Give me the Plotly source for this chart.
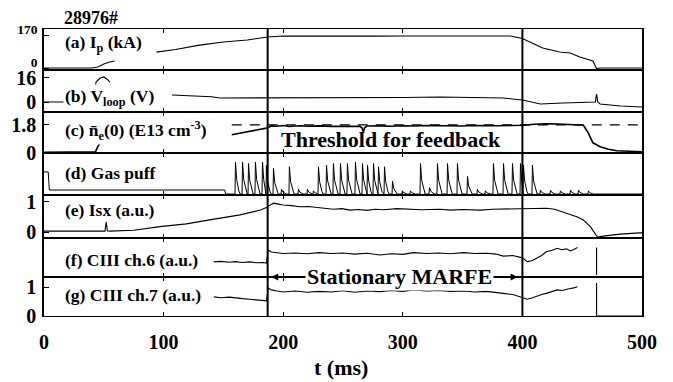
import plotly.graph_objects as go
from plotly.subplots import make_subplots

shot_label = "28976#"
x_tick_vals = [0, 100, 200, 300, 400, 500]
marfe_start, marfe_end = 187, 400

# (a) plasma current, kA
ip_t = [0, 40, 45, 50, 55, 59, None, 94, 110, 130, 150, 170, 187, 200, 225, 250, 275, 300, 325, 350, 375, 390, 400, 406, 417, 431, 440, 448, 459, 462, 466, 480, 500]
ip_v = [0, 0, 5, 21, 31, 36, None, 82, 95, 118, 134, 144, 160, 165, 164, 166, 164, 165, 166, 167, 166, 165, 152, 135, 103, 82, 77, 57, 36, -3, 0, 0, 0]

# (b) loop voltage, V
vl_t = [0, 40, 42, 43.5, 47, 50, 53, 55, None, 107, 130, 140, 147, 187, 230, 267, 300, 331, 360, 384, 400, 407, 415, 434, 448, 461, 462, 463, 465, 482, 500]
vl_v = [0, 0, 5, 13.3, 16, 16.7, 15, 13.3, None, 4.7, 4.0, 3.5, 2.7, 2.7, 3.0, 2.9, 3.0, 3.3, 3.0, 2.7, 1.3, 0, -1.3, -0.7, -0.3, 0, 5.3, 0, -1.3, -2.7, -3.3]

# (c) line-averaged density, E13 cm-3
ne_t = [0, 42, 43, 45, 47, None, 157, 165, 175, 187, 190, 195, 200, 205, 210, 215, 220, 230, 240, 250, 258, 264, 266, 267, 268, 270, 280, 290, 300, 310, 320, 330, 340, 350, 360, 370, 380, 390, 400, 410, 420, 430, 440, 448, 451, 455, 459, 465, 472, 479, 488, 496, 500]
ne_v = [0.02, 0.02, 0.05, 0.39, 0.64, None, 1.16, 1.29, 1.41, 1.61, 1.74, 1.72, 1.76, 1.70, 1.73, 1.75, 1.72, 1.74, 1.71, 1.73, 1.70, 1.72, 1.60, 1.29, 1.60, 1.73, 1.74, 1.72, 1.75, 1.73, 1.76, 1.74, 1.75, 1.73, 1.76, 1.74, 1.75, 1.76, 1.78, 1.85, 1.88, 1.86, 1.84, 1.82, 1.78, 1.29, 0.64, 0.39, 0.22, 0.13, 0.08, 0.06, 0.06]
threshold_t = [157, 500]
threshold_v = [1.8, 1.8]

# (d) gas puff: pre-fill then feedback pulses (time, relative height)
puff_base_t = [0, 3.5, 4.5, 151, 152]
puff_base_v = [0.69, 0.69, 0.125, 0.125, 0]
pulse_t = [159.7, 165.6, 170.6, 176.4, 182.3, 185.6, 191.5, 198.2, 204.8, 212.4, 219.9, 224.9, 229.1, 235.8, 241.6, 247.5, 253.3, 260.0, 265.9, 270.1, 275.1, 279.3, 284.3, 291.0, 299.3, 306.0, 314.4, 321.9, 328.6, 337.0, 345.3, 353.7, 362.0, 368.7, 375.4, 383.8, 391.3, 398.0, 400.5, 408.0, 414.7, 423.1, 431.4, 439.8, 446.5, 454.8]
pulse_h = [1.0, 1.0, 0.95, 1.0, 1.0, 0.9, 0.8, 0.15, 0.85, 0.15, 0.15, 0.1, 0.85, 0.9, 0.95, 0.95, 0.95, 1.0, 0.95, 0.9, 0.95, 0.85, 0.85, 0.4, 0.1, 0.1, 0.95, 0.2, 0.95, 0.95, 0.95, 0.55, 0.15, 0.1, 0.95, 0.95, 0.95, 0.95, 0.9, 0.9, 0.12, 0.12, 0.1, 0.12, 0.12, 0.1]

# (e) soft X-ray, a.u.
isx_t = [0, 30, 50, 51, 52, 53, 55, 75, 97, 119, 141, 164, 181, 186, 190, 192, 196, 200, 207, 214, 221, 228, 235, 242, 249, 256, 263, 270, 277, 284, 295, 305, 315, 331, 340, 350, 365, 375, 385, 395, 405, 413, 420, 427, 434, 440, 446, 451, 457, 461, 463, 469, 482, 498, 500]
isx_v = [0.03, 0.03, 0.03, 0.03, 0.33, 0.04, 0.03, 0.06, 0.18, 0.27, 0.42, 0.57, 0.73, 0.82, 0.92, 0.96, 0.93, 0.90, 0.88, 0.84, 0.85, 0.82, 0.80, 0.76, 0.78, 0.73, 0.75, 0.72, 0.76, 0.74, 0.78, 0.76, 0.74, 0.76, 0.73, 0.75, 0.73, 0.76, 0.77, 0.77, 0.78, 0.80, 0.79, 0.76, 0.67, 0.58, 0.50, 0.40, 0.17, -0.07, -0.17, -0.13, -0.07, -0.03, -0.03]

# (f), (g) CIII channels, a.u.
ciii_t = [142, 148, 155, 160, 166, 172, 178, 183, 186, 187.5, 190, 195, 200, 210, 220, 230, 240, 250, 260, 270, 281, 290, 300, 309, 320, 330, 340, 351, 360, 370, 378, 384, 392, 400, 404, 408, 412, 416, 420, 425, 429, 433, 437, 440, 443, 446]
ch6_v = [0.52, 0.54, 0.51, 0.53, 0.50, 0.52, 0.49, 0.50, 0.48, 0.93, 0.86, 0.84, 0.81, 0.83, 0.80, 0.84, 0.81, 0.83, 0.79, 0.82, 0.76, 0.80, 0.78, 0.84, 0.81, 0.83, 0.80, 0.84, 0.81, 0.82, 0.79, 0.72, 0.74, 0.66, 0.53, 0.56, 0.64, 0.74, 0.87, 0.92, 0.99, 0.94, 0.97, 0.90, 0.95, 1.02]
ch7_v = [0.66, 0.63, 0.65, 0.62, 0.60, 0.58, 0.56, 0.54, 0.52, 0.97, 0.90, 0.86, 0.83, 0.86, 0.82, 0.85, 0.83, 0.87, 0.82, 0.86, 0.84, 0.88, 0.85, 0.90, 0.86, 0.88, 0.85, 0.86, 0.83, 0.85, 0.80, 0.78, 0.74, 0.64, 0.58, 0.62, 0.69, 0.74, 0.78, 0.84, 0.90, 0.88, 0.93, 0.95, 0.97, 1.01]
ch6_disr_t = [462, 462]
ch6_disr_v = [0.07, 1.02]
ch7_disr_t = [462, 462, 500]
ch7_disr_v = [1.14, 0, 0]

panel_labels = ["(a) I<sub>p</sub> (kA)", "(b) V<sub>loop</sub> (V)",
                "(c) n\u0304<sub>e</sub>(0) (E13 cm<sup>-3</sup>)", "(d) Gas puff",
                "(e) Isx (a.u.)", "(f) CIII ch.6 (a.u.)", "(g) CIII ch.7 (a.u.)"]
y_ranges = [[-10.3, 200.9], [-6.67, 21.33], [-0.02, 2.64], [-0.03, 1.28],
            [-0.2, 1.233], [0, 1.345], [0, 1.345]]
y_ticks = [[0, 170], [0, 16], [0, 1.8], [], [0, 1], [], [0, 1]]
y_ticktext = [["0", "170"], ["0", "16"], ["0", "1.8"], [], ["0", "1"], [], ["0", "1"]]

# build gas-puff waveform from pulse list
gp_t = list(puff_base_t)
gp_v = list(puff_base_v)
for i, (t0, h) in enumerate(zip(pulse_t, pulse_h)):
    nxt = pulse_t[i + 1] if i + 1 < len(pulse_t) else 1e9
    for dt, f in [(0, 0), (0.4, 1.0), (1.4, 0.45), (3.2, 0.1), (4.3, 0)]:
        if t0 + dt < nxt:
            gp_t.append(t0 + dt)
            gp_v.append(h * f)
gp_t.append(500)
gp_v.append(0)

FONT = "Liberation Serif, Times New Roman, serif"
BLACK = "#000000"

fig = make_subplots(rows=7, cols=1, shared_xaxes=True, vertical_spacing=0,
                    row_heights=[41, 42, 41, 42, 43, 39, 39])

def line(x, y, row, width=1.1, dash=None):
    fig.add_trace(go.Scatter(x=x, y=y, mode="lines", connectgaps=False,
                             line=dict(color=BLACK, width=width, dash=dash),
                             showlegend=False, hoverinfo="skip"), row=row, col=1)

line(ip_t, ip_v, 1)
line(vl_t, vl_v, 2)
line(ne_t, ne_v, 3, width=1.6)
line(threshold_t, threshold_v, 3, width=1.3, dash="10px,8px")
line(gp_t, gp_v, 4, width=1.0)
line(isx_t, isx_v, 5)
line(ciii_t, ch6_v, 6)
line(ch6_disr_t, ch6_disr_v, 6)
line(ciii_t, ch7_v, 7)
line(ch7_disr_t, ch7_disr_v, 7)

for r in range(1, 8):
    last = r == 7
    fig.update_xaxes(row=r, col=1, range=[0, 500], showline=True, linecolor=BLACK, linewidth=1,
                     mirror="allticks", ticks="inside", ticklen=4, tickwidth=1.2, tickcolor=BLACK,
                     tickvals=x_tick_vals, ticktext=[str(v) for v in x_tick_vals],
                     showticklabels=last, showgrid=False, zeroline=False, automargin=False,
                     tickfont=dict(family=FONT, size=20, color=BLACK, weight="bold"),
                     ticklabelstandoff=8)
    fig.update_yaxes(row=r, col=1, range=y_ranges[r - 1], showline=True, linecolor=BLACK,
                     linewidth=1.6, mirror=True, ticks="inside" if y_ticks[r - 1] else "",
                     ticklen=5, tickwidth=1.2, tickcolor=BLACK, automargin=False,
                     tickvals=y_ticks[r - 1], ticktext=y_ticktext[r - 1],
                     showgrid=False, zeroline=False, ticklabelstandoff=2,
                     ticklabelshift=-6 if r == 1 else 0,
                     tickfont=dict(family=FONT, size=13.5 if r == 1 else 20, color=BLACK, weight="bold"))

# vertical lines marking stationary MARFE phase
for tv in (marfe_start, marfe_end):
    fig.add_shape(type="line", xref="x", yref="paper", x0=tv, x1=tv, y0=0, y1=1,
                  line=dict(color=BLACK, width=2))

label_y = [0.951, 0.763, 0.648, 0.498, 0.369, 0.195, 0.073]
for lbl, yy in zip(panel_labels, label_y):
    fig.add_annotation(text=lbl, xref="paper", yref="paper", x=0.032, y=yy,
                       xanchor="left", yanchor="middle", showarrow=False,
                       bgcolor="white", borderpad=1,
                       font=dict(family=FONT, size=17.5, color=BLACK, weight="bold"))

fig.add_annotation(text=shot_label, xref="paper", yref="paper", x=0.03, y=1.040,
                   xanchor="left", yanchor="middle", showarrow=False,
                   font=dict(family=FONT, size=18, color=BLACK, weight="bold"))
fig.add_annotation(text="Threshold for feedback", xref="x", yref="paper", x=290, y=0.569,
                   xanchor="center", yanchor="bottom", showarrow=False, borderpad=0,
                   font=dict(family=FONT, size=22, color=BLACK, weight="bold"))
fig.add_annotation(text="Stationary MARFE", xref="x", yref="paper", x=297, y=0.1359,
                   xanchor="center", yanchor="middle", showarrow=False, bgcolor="white",
                   borderpad=1,
                   font=dict(family=FONT, size=22, color=BLACK, weight="bold"))
fig.add_annotation(text="", xref="x", yref="paper", x=190, y=0.1359, ax=25, ay=0,
                   showarrow=True, arrowhead=2, arrowsize=1, arrowwidth=1.4, arrowcolor=BLACK)
fig.add_annotation(text="", xref="x", yref="paper", x=396, y=0.1359, ax=-25, ay=0,
                   showarrow=True, arrowhead=2, arrowsize=1, arrowwidth=1.4, arrowcolor=BLACK)
fig.add_annotation(text="t (ms)", xref="paper", yref="paper", x=0.497, y=-0.178,
                   xanchor="center", yanchor="middle", showarrow=False,
                   font=dict(family=FONT, size=22, color=BLACK, weight="bold"))

# page body has an 8px default margin, so the figure is sized to fit the window
fig.update_layout(width=665, height=374, margin=dict(l=36, r=31, t=21, b=66, autoexpand=False),
                  paper_bgcolor="white", plot_bgcolor="white", showlegend=False)

fig.write_html("out.html")
